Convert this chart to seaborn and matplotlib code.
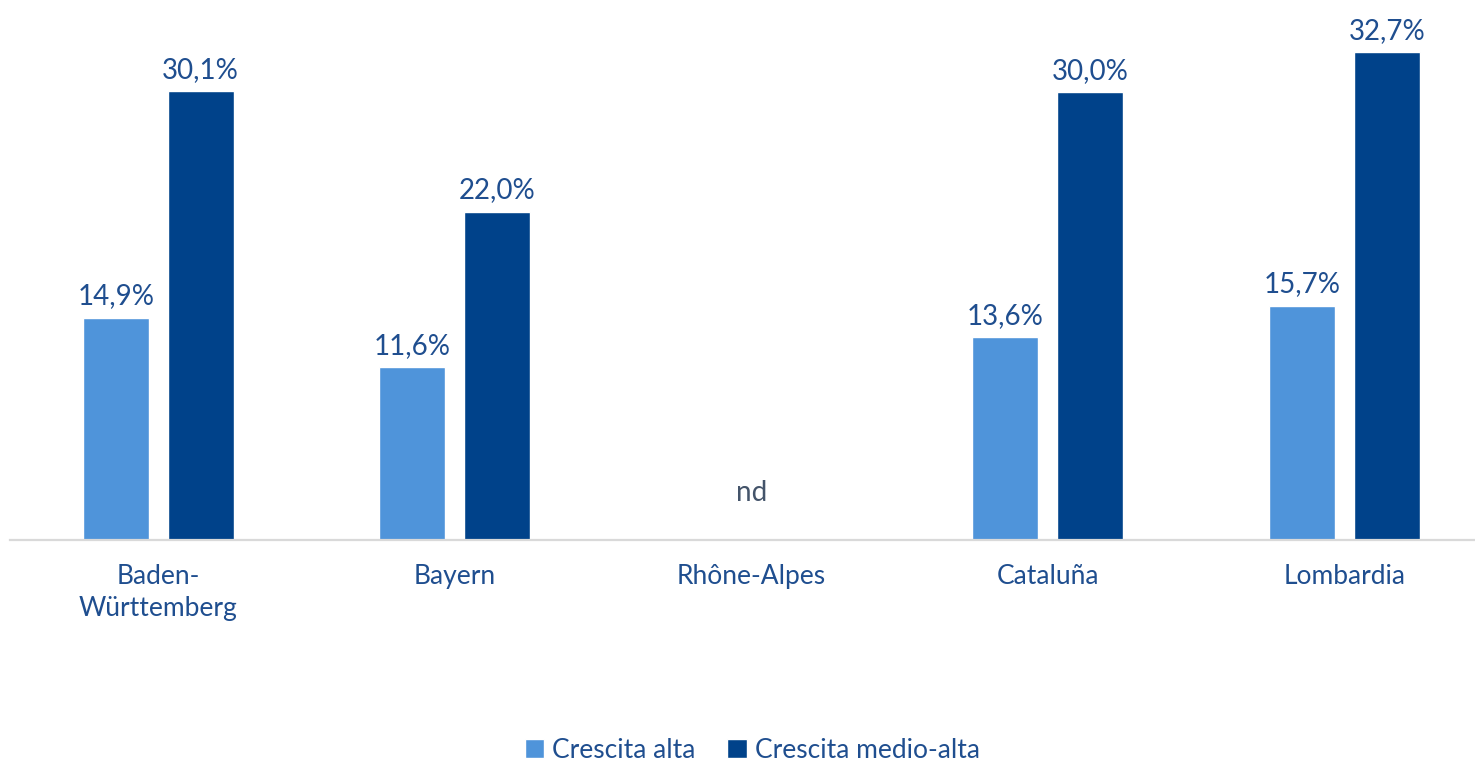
import numpy as np
import pandas as pd
import seaborn as sns
from matplotlib import pyplot as plt
from matplotlib.patches import Patch

# dati (Rhône-Alpes non disponibile)
regioni = ["Baden-\nWürttemberg", "Bayern", "Rhône-Alpes", "Cataluña", "Lombardia"]
crescita_alta = [14.9, 11.6, np.nan, 13.6, 15.7]
crescita_medio_alta = [30.1, 22.0, np.nan, 30.0, 32.7]
serie = ["Crescita alta", "Crescita medio-alta"]
colori = ["#4F94DA", "#00428A"]
colore_testo = "#1F4E8F"

df = pd.DataFrame({
    "regione": regioni * 2,
    "serie": [serie[0]] * len(regioni) + [serie[1]] * len(regioni),
    "valore": crescita_alta + crescita_medio_alta,
})

sns.set_style("white")
plt.rcParams["font.family"] = ["Lato", "DejaVu Sans"]

fig = plt.figure(figsize=(14.75, 7.65), dpi=100)
ax = fig.add_axes([10 / 1475, 225 / 765, 1465 / 1475, 540 / 765])

sns.barplot(data=df.dropna(), x="regione", y="valore", hue="serie",
            order=regioni, hue_order=serie, palette=colori,
            width=0.573, gap=0.22, saturation=1, legend=False, ax=ax)

for cont in ax.containers:
    etichette = [f"{v:.1f}%".replace(".", ",") for v in cont.datavalues]
    ax.bar_label(cont, labels=etichette, padding=6, fontsize=20, color=colore_testo)

ax.text(2, 3.15, "nd", ha="center", va="center", fontsize=20, color="#44546A")

ax.set_xlim(-0.5, -0.5 + 1465 / 296.5)
ax.set_ylim(0, 540 / 14.92)
ax.set_xlabel("")
ax.set_ylabel("")
ax.set_yticks([])
ax.tick_params(axis="x", length=0, pad=17, labelsize=19, labelcolor=colore_testo)
for t in ax.get_xticklabels():
    t.set_linespacing(1.35)
for lato in ["top", "right", "left"]:
    ax.spines[lato].set_visible(False)
ax.spines["bottom"].set_color("#D9D9D9")
ax.spines["bottom"].set_linewidth(1.6)

maniglie = [Patch(facecolor=c, label=s) for c, s in zip(colori, serie)]
leg = fig.legend(handles=maniglie, loc="center", bbox_to_anchor=(0.51, 15 / 765),
                 ncol=2, frameon=False, fontsize=19, handlelength=0.75,
                 handleheight=0.75, handletextpad=0.3, columnspacing=1.2)
for t in leg.get_texts():
    t.set_color(colore_testo)

fig.savefig("out.png", dpi=100)
